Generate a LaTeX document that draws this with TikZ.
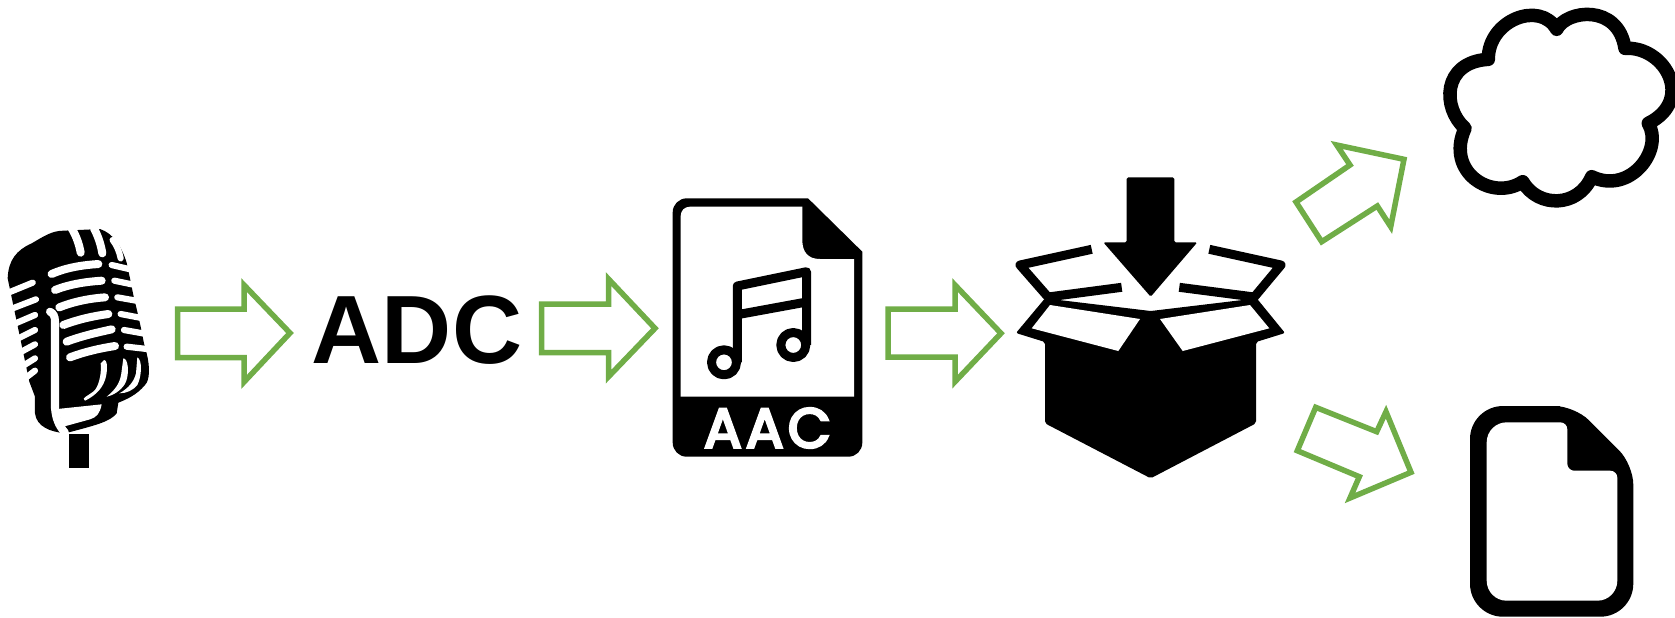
\documentclass[tikz,border=0pt]{standalone}
\usepackage{fontspec}
\setmainfont{Liberation Sans}
\newfontfamily\aacfont[LetterSpace=8,FakeBold=5]{Poppins}
\definecolor{flowgreen}{HTML}{70AD47}
\begin{document}
\begin{tikzpicture}[x=0.01cm,y=-0.01cm,
  flowarrow/.style={draw=flowgreen,line width=0.055cm,miter limit=10,fill=white},
  micslot/.style={draw=white,line width=0.08cm,line cap=round},
  micrib/.style={draw=white,line width=0.062cm,line cap=round},
  iconline/.style={draw=black,line width=0.09cm,line join=round}]
\useasboundingbox (0,0) rectangle (1675,617);

\begin{scope}[shift={(0,210)},scale=1/3]
\fill[black] (207,672) rectangle (267,775);
\fill[black] (23,205) .. controls (25,150) and (50,120) .. (95,100) .. controls (130,80) and (155,62) .. (190,62) -- (300,57) .. controls (340,70) and (365,110) .. (380,158) -- (390,205) -- (400,255) -- (412,305) -- (422,350) -- (432,400) -- (440,430) .. controls (450,470) and (450,510) .. (435,525) .. controls (410,555) and (380,568) .. (355,578) -- (350,610) .. controls (330,635) and (290,645) .. (195,670) .. controls (150,665) and (110,650) .. (105,610) -- (105,560) -- (88,515) -- cycle;
\fill[white] (172,597) -- (305,583) .. controls (300,610) and (290,622) .. (270,628) -- (190,650) -- cycle;
\draw[micslot] (150,305) .. controls (160,310) and (165,318) .. (165,335) -- (165,595) .. controls (168,625) and (175,645) .. (195,668);
\draw[micslot] (155,192) .. controls (200,172) and (250,165) .. (295,162);
\draw[micslot] (165,240) .. controls (210,222) and (260,215) .. (305,212);
\draw[micslot] (178,292) .. controls (220,275) and (270,265) .. (315,262);
\draw[micslot] (190,345) .. controls (235,328) and (280,318) .. (325,312);
\draw[micslot] (200,395) .. controls (245,378) and (290,368) .. (335,358);
\draw[micslot] (210,442) .. controls (255,425) and (300,415) .. (345,408);
\draw[micrib] (335,165) -- (400,180);
\draw[micrib] (343,212) -- (410,226);
\draw[micrib] (352,262) -- (420,274);
\draw[micrib] (362,312) -- (430,325);
\draw[micrib] (372,360) -- (440,372);
\draw[micrib] (380,410) -- (450,418);
\draw[micrib] (98,218) -- (15,252);
\draw[micrib] (108,268) -- (25,300);
\draw[micrib] (105,315) -- (35,345);
\draw[micrib] (105,360) -- (45,390);
\draw[micrib] (105,403) -- (55,430);
\draw[micrib] (105,445) -- (65,470);
\draw[micrib] (105,482) -- (75,505);
\draw[micslot] (215,55) .. controls (230,80) and (238,105) .. (242,128);
\draw[micslot] (282,55) .. controls (295,80) and (303,105) .. (307,130);
\draw[micrib] (338,90) .. controls (350,105) and (358,125) .. (362,145);
\fill[white] (312,450) .. controls (325,450) and (322,490) .. (315,510) .. controls (305,540) and (280,560) .. (255,572) .. controls (240,565) and (270,555) .. (285,540) .. controls (300,520) and (305,480) .. (302,460) -- cycle;
\fill[white] (370,445) .. controls (385,445) and (388,490) .. (378,515) .. controls (370,535) and (345,555) .. (320,560) .. controls (345,540) and (360,520) .. (364,490) -- cycle;
\fill[white] (412,442) .. controls (428,450) and (425,500) .. (412,525) .. controls (400,540) and (380,550) .. (358,550) .. controls (385,535) and (402,515) .. (408,490) -- cycle;
\end{scope}

\draw[flowarrow] (177.5,309) -- (244,309) -- (244,285) -- (290,333) -- (244,382) -- (244,357.5) -- (177.5,357.5) -- cycle;
\node[font=\bfseries\fontsize{27.6}{30}\selectfont,inner sep=0pt] (adc) at (417,330.5) {ADC};
\draw[flowarrow] (541.7,304) -- (608.5,304) -- (608.5,279) -- (655,328.3) -- (608.5,376.7) -- (608.5,352.5) -- (541.7,352.5) -- cycle;

\fill[black] (740,198.3) [rounded corners=0.14cm] -- (672.7,198.3) -- (672.7,456.7) -- (862.3,456.7) -- (862.3,300) [sharp corners] -- (862.3,251.7) -- (808,198.3) -- cycle;
\fill[white] (740,206.7) [rounded corners=0.09cm] -- (680.7,206.7) [sharp corners] -- (680.7,396.7) -- (854,396.7) -- (854,259) -- (820,259) .. controls (808,259) and (802.3,252) .. (802.3,240) -- (802.3,206.7) -- cycle;
\draw[iconline] (737.3,362.3) -- (737.3,286) -- (806.5,271.7) -- (806.5,345);
\draw[iconline] (737.3,314.7) -- (806.5,302);
\draw[iconline] (724,362.3) circle (12.5);
\draw[iconline] (793.3,345) circle (12.5);
\node[font=\aacfont\fontsize{15.8}{18}\selectfont,text=white,inner sep=0pt] (aac) at (767.5,428) {AAC};

\draw[flowarrow] (888,309) -- (955,309) -- (955,285) -- (1001,333.3) -- (955,381.7) -- (955,357) -- (888,357) -- cycle;

\fill[black,rounded corners=0.015cm] (1126.7,177.3) -- (1174.3,177.3) -- (1174.3,242.3) -- (1197.3,242.3) -- (1150.7,296.7) -- (1103.3,242.3) -- (1126.7,242.3) -- cycle;
\draw[iconline] (1091.7,249.3) -- (1020,265) -- (1048,297) -- (1121.7,287.3);
\draw[iconline] (1209.3,249.3) -- (1281,265) -- (1254.3,297) -- (1179.3,287.3);
\fill[black,rounded corners=0.02cm] (1045,298.3) -- (1016,333) -- (1045,342) -- (1045,423.3) -- (1150.7,478.3) -- (1256,423.3) -- (1256,342) -- (1285,333) -- (1256.7,298.3) -- (1150.7,311) -- cycle;
\fill[white] (1050,305) -- (1140,319) -- (1118.3,351) -- (1031.7,328.3) -- cycle;
\fill[white] (1250,305) -- (1160,319) -- (1182.7,351) -- (1269.3,328.3) -- cycle;

\draw[flowarrow] (1296,202) -- (1350,165) -- (1336.7,145) -- (1404,159.3) -- (1390.7,226.7) -- (1377.3,206) -- (1321.7,241.7) -- cycle;
\draw[flowarrow] (1315.7,407.3) -- (1376.7,431.7) -- (1386,411.7) -- (1411,472.3) -- (1350,498) -- (1359.3,476.7) -- (1297.3,450.7) -- cycle;

\draw[black,line width=0.135cm,line join=round] (1556.7,29.3) .. controls (1566,10) and (1618,3) .. (1625,48.3) .. controls (1665,46) and (1695,100) .. (1648.3,123.3) .. controls (1664,150) and (1630,195) .. (1591.7,176.7) .. controls (1578,208) and (1538,208) .. (1522.7,181.7) .. controls (1492,202) and (1445,172) .. (1465,128.3) .. controls (1442,108) and (1442,62) .. (1488.3,59.3) .. controls (1488,20) and (1540,0) .. (1556.7,29.3) -- cycle;

\fill[black] (1540,406) [rounded corners=0.33cm] -- (1470,406) -- (1470,616.7) -- (1633.3,616.7) [rounded corners=0.2cm] -- (1633.3,464.6) -- (1574.7,406) -- cycle;
\fill[white] (1520,422.3) [rounded corners=0.2cm] -- (1486.7,422.3) -- (1486.7,600.7) -- (1617.3,600.7) [rounded corners=0.07cm] -- (1617.3,470.7) -- (1567.3,470.7) -- (1567.3,422.3) -- cycle;
\end{tikzpicture}
\end{document}
